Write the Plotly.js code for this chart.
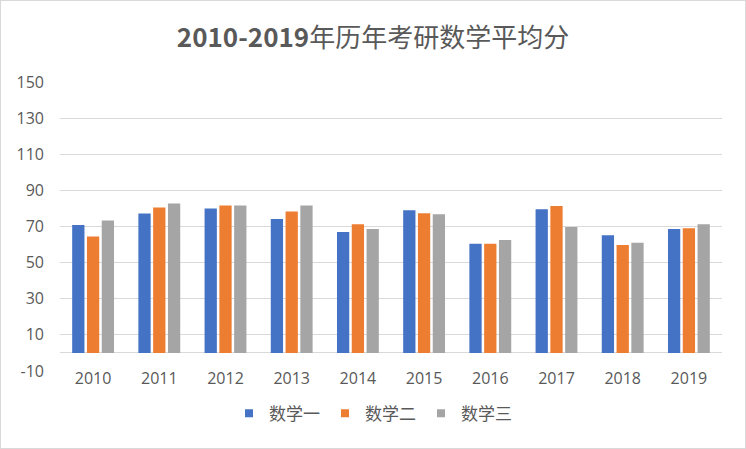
<!DOCTYPE html>
<html>
<head>
<meta charset="utf-8">
<script src="https://cdn.plot.ly/plotly-3.0.1.min.js"></script>
<style>
html,body{margin:0;padding:0;background:#fff;}
#chart{width:746px;height:449px;box-sizing:border-box;border:1px solid #d9d9d9;}
</style>
</head>
<body>
<div id="chart"></div>
<script>
const years = ['2010','2011','2012','2013','2014','2015','2016','2017','2018','2019'];
const math1 = [70.8, 77.2, 80.0, 74.1, 66.9, 79.0, 60.4, 79.6, 65.2, 68.6];
const math2 = [64.5, 80.5, 81.6, 78.3, 71.3, 77.4, 60.4, 81.3, 59.7, 69.1];
const math3 = [73.3, 82.7, 81.6, 81.6, 68.6, 76.8, 62.5, 69.7, 61.0, 71.3];
const seriesNames = ['数学一', '数学二', '数学三'];
const yTicks = [-10, 10, 30, 50, 70, 90, 110, 130, 150];

const colors = ['#4472C4', '#ED7D31', '#A5A5A5'];
const fontFam = '"Noto Sans CJK SC", "Noto Sans", sans-serif';
const tickFam = '"Open Sans", sans-serif';

const barTraces = [math1, math2, math3].map((vals, i) => ({
  type: 'bar',
  x: years,
  y: vals,
  name: seriesNames[i],
  marker: {color: colors[i]},
  showlegend: false
}));
// legend entries with small square markers (like the reference)
const legendTraces = seriesNames.map((n, i) => ({
  type: 'scatter',
  mode: 'markers',
  x: [null], y: [null],
  name: n,
  marker: {color: colors[i], symbol: 'square', size: 8},
  showlegend: true
}));

const layout = {
  width: 744, height: 447,
  margin: {l: 59, r: 23, t: 81, b: 77},
  paper_bgcolor: '#fff',
  plot_bgcolor: '#fff',
  barmode: 'group',
  bargap: 0.33,
  bargroupgap: 0.17,
  title: {
    text: '<b>2010-2019</b>年历年考研数学平均分',
    x: 0.5, xanchor: 'center',
    y: 0.918, yanchor: 'middle',
    font: {family: fontFam, size: 26, color: '#595959'}
  },
  xaxis: {
    type: 'category',
    showgrid: false,
    showline: false,
    ticks: '',
    tickfont: {family: tickFam, size: 16, color: '#595959'},
    ticklabelstandoff: -4
  },
  yaxis: {
    range: [-10, 150],
    tickvals: yTicks,
    ticktext: yTicks.map(String),
    showgrid: true,
    gridcolor: '#D9D9D9',
    gridwidth: 1,
    zeroline: true,
    zerolinecolor: '#D9D9D9',
    zerolinewidth: 1,
    showline: false,
    ticks: '',
    ticklabelstandoff: 15,
    tickfont: {family: tickFam, size: 16, color: '#595959'}
  },
  showlegend: true,
  legend: {
    orientation: 'h',
    xref: 'container', yref: 'container',
    x: 0.5, xanchor: 'center',
    y: 0.077, yanchor: 'middle',
    font: {family: fontFam, size: 17, color: '#595959'},
    itemwidth: 30,
    traceorder: 'normal'
  }
};

Plotly.newPlot('chart', barTraces.concat(legendTraces), layout, {displayModeBar: false, staticPlot: true});
</script>
</body>
</html>
